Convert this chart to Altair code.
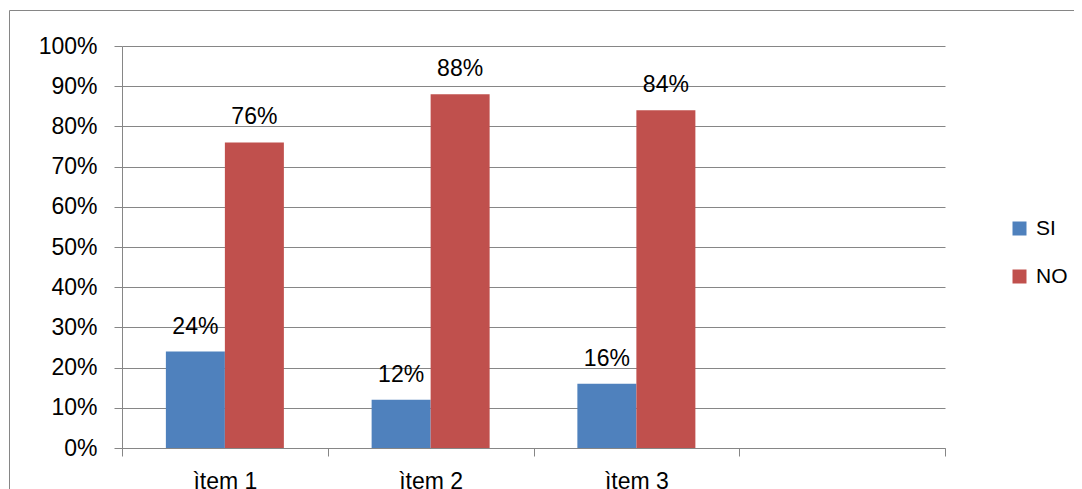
import altair as alt
import pandas as pd

items = ["ìtem 1", "ìtem 2", "ìtem 3"]
si_values = [0.24, 0.12, 0.16]
no_values = [0.76, 0.88, 0.84]
groups = ["SI", "NO"]
group_colors = ["#4F81BD", "#C0504D"]
x_domain = items + [""]
y_ticks = [0, 0.1, 0.2, 0.3, 0.4, 0.5, 0.6, 0.7, 0.8, 0.9, 1.0]

rows = []
for i, it in enumerate(items):
    rows.append({"item": it, "grupo": "SI", "valor": si_values[i]})
    rows.append({"item": it, "grupo": "NO", "valor": no_values[i]})
df = pd.DataFrame(rows)

GRAY = "#868686"
FONT = "Liberation Sans"

x_enc = alt.X(
    "item:N",
    sort=x_domain,
    scale=alt.Scale(domain=x_domain, paddingInner=0, paddingOuter=0),
    axis=alt.Axis(
        title=None, labelAngle=0, tickBand="extent", tickSize=8,
        labelPadding=14, grid=False, labelFontSize=23, labelFont=FONT,
        labelColor="#000000", domainColor=GRAY, tickColor=GRAY,
    ),
)
xo_enc = alt.XOffset("grupo:N", sort=groups,
                     scale=alt.Scale(domain=groups, paddingInner=0, paddingOuter=0.7436))
y_enc = alt.Y(
    "valor:Q",
    scale=alt.Scale(domain=[0, 1]),
    axis=alt.Axis(
        values=y_ticks, format=".0%", title=None, tickSize=8, labelPadding=17,
        labelFontSize=23, labelFont=FONT, labelColor="#000000",
        domainColor=GRAY, tickColor=GRAY, gridColor=GRAY, grid=True,
    ),
)
color_enc = alt.Color(
    "grupo:N", sort=groups,
    scale=alt.Scale(domain=groups, range=group_colors),
    legend=alt.Legend(
        title=None, orient="none", legendX=887, legendY=172,
        symbolType="square", symbolSize=196, symbolStrokeWidth=0,
        labelFontSize=21, labelFont=FONT, labelColor="#000000",
        rowPadding=26, labelOffset=6,
    ),
)

frame = alt.Chart(pd.DataFrame({"k": [0]})).mark_rect(
    filled=False, stroke=GRAY, strokeWidth=1
).encode(
    x=alt.value(-112.5), x2=alt.value(1200),
    y=alt.value(-35.5), y2=alt.value(700),
)

base = alt.Chart(df)
bars = base.mark_bar().encode(x=x_enc, xOffset=xo_enc, y=y_enc, color=color_enc)
labels = base.mark_text(
    baseline="alphabetic", dy=-18, fontSize=23, font=FONT, color="#000000"
).encode(x=x_enc, xOffset=xo_enc, y=y_enc, text=alt.Text("valor:Q", format=".0%"))

chart = alt.layer(frame, bars, labels).properties(
    width=823, height=402,
    autosize=alt.AutoSizeParams(type="none"),
    padding={"left": 114, "top": 38, "right": 129, "bottom": 41},
    background="#ffffff",
).configure_view(stroke=None)

chart.save("out.html", embed_options={"renderer": "svg", "actions": False})
